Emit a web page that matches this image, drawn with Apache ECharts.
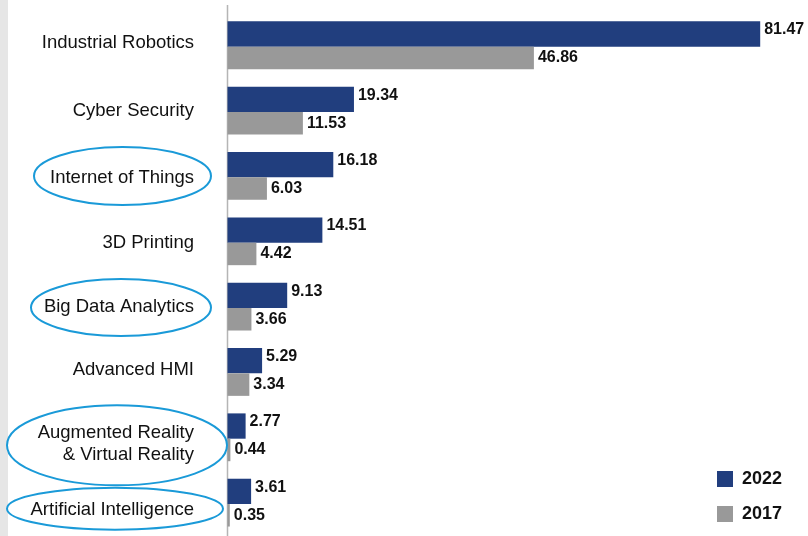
<!DOCTYPE html>
<html>
<head>
<meta charset="utf-8">
<script src="https://cdn.jsdelivr.net/npm/echarts@6/dist/echarts.min.js"></script>
<style>
html,body{margin:0;padding:0;background:#fff;}
#chart{width:808px;height:536px;}
</style>
</head>
<body>
<div id="chart"></div>
<script>
var categories = ['Industrial Robotics', 'Cyber Security', 'Internet of Things', '3D Printing', 'Big Data Analytics', 'Advanced HMI', 'Augmented Reality\n& Virtual Reality', 'Artificial Intelligence'];
var seriesNames = ['2022', '2017'];
var values2022 = [81.47, 19.34, 16.18, 14.51, 9.13, 5.29, 2.77, 3.61];
var values2017 = [46.86, 11.53, 6.03, 4.42, 3.66, 3.34, 0.44, 0.35];
var circled = ['Internet of Things', 'Big Data Analytics', 'Augmented Reality\n& Virtual Reality', 'Artificial Intelligence'];

var FONT = '"Liberation Sans", Arial, Helvetica, sans-serif';
var chart = echarts.init(document.getElementById('chart'), null, {renderer: 'canvas'});

// small per-label vertical nudges (text placement only), done with spacer lines
var labelShift = {'Augmented Reality\n& Virtual Reality': 7, 'Artificial Intelligence': 7, 'Industrial Robotics': -2, 'Internet of Things': 2, '3D Printing': 2, 'Advanced HMI': -2};
var richStyles = {
  n: {fontFamily: FONT, fontSize: 18.5, color: '#111111', lineHeight: 22, align: 'right'}
};
[2, 7].forEach(function (s) {
  richStyles['sp' + s] = {fontSize: 1, lineHeight: 2 * s, height: 2 * s, color: 'rgba(0,0,0,0)'};
});
function labelFormatter(value) {
  var s = labelShift[value] || 0;
  var out = value.split('\n').map(function (ln) { return '{n|' + ln + '}'; });
  if (s > 0) out.unshift('{sp' + s + '| }');
  if (s < 0) out.push('{sp' + (-s) + '| }');
  return out.join('\n');
}

var option = {
  animation: false,
  backgroundColor: '#ffffff',
  grid: {left: 227.5, right: 5.1, top: 12.6, bottom: 0.7, containLabel: false},
  xAxis: {
    type: 'value', min: 0, max: 88,
    show: false
  },
  yAxis: {
    type: 'category', data: categories, inverse: true,
    axisLine: {show: false}, axisTick: {show: false},
    axisLabel: {margin: 33.5, fontFamily: FONT, fontSize: 18.5, color: '#111111', lineHeight: 22, align: 'right',
      formatter: labelFormatter, rich: richStyles}
  },
  legend: {
    orient: 'vertical', left: 717, top: 470, padding: 0,
    itemWidth: 16, itemHeight: 16, itemGap: 17, icon: 'rect',
    data: seriesNames,
    textStyle: {fontFamily: FONT, fontSize: 18, fontWeight: 'bold', color: '#111111', lineHeight: 16, padding: [0, 0, 0, 4]}
  },
  series: [
    {
      name: seriesNames[0], type: 'bar', data: values2022,
      barWidth: 25.3, barGap: '0%',
      itemStyle: {color: '#213e7e'},
      label: {show: true, position: 'right', distance: 4, offset: [0, -4], fontFamily: FONT, fontSize: 16, fontWeight: 'bold', color: '#111111'}
    },
    {
      name: seriesNames[1], type: 'bar', data: values2017,
      barWidth: 22.5, barGap: '0%',
      itemStyle: {color: '#999999'},
      label: {show: true, position: 'right', distance: 4, fontFamily: FONT, fontSize: 16, fontWeight: 'bold', color: '#111111'}
    }
  ]
};
chart.setOption(option);

// annotations: left strip, axis line, ellipses around highlighted categories
var x0 = chart.convertToPixel({xAxisIndex: 0}, 0);
var ellipseSpec = {
  'Internet of Things': {cx: 122.5, dy: 0, rx: 88.5, ry: 29},
  'Big Data Analytics': {cx: 121, dy: 1, rx: 90, ry: 28.5},
  'Augmented Reality\n& Virtual Reality': {cx: 117, dy: 8, rx: 110, ry: 40},
  'Artificial Intelligence': {cx: 115, dy: 6, rx: 108, ry: 21}
};
var graphics = [
  {type: 'rect', shape: {x: 0, y: 0, width: 8, height: 536}, style: {fill: '#e6e6e6'}, silent: true, z: 0},
  {type: 'line', shape: {x1: x0, y1: 5, x2: x0, y2: 536}, style: {stroke: '#b5b5b5', lineWidth: 1.5}, silent: true, z: 1}
];
circled.forEach(function (c) {
  var s = ellipseSpec[c];
  var cy = chart.convertToPixel({yAxisIndex: 0}, categories.indexOf(c));
  graphics.push({
    type: 'ellipse',
    shape: {cx: s.cx, cy: cy + s.dy, rx: s.rx, ry: s.ry},
    style: {fill: null, stroke: '#1a9ad8', lineWidth: 2},
    silent: true, z: 5
  });
});
chart.setOption({graphic: graphics});
</script>
</body>
</html>
